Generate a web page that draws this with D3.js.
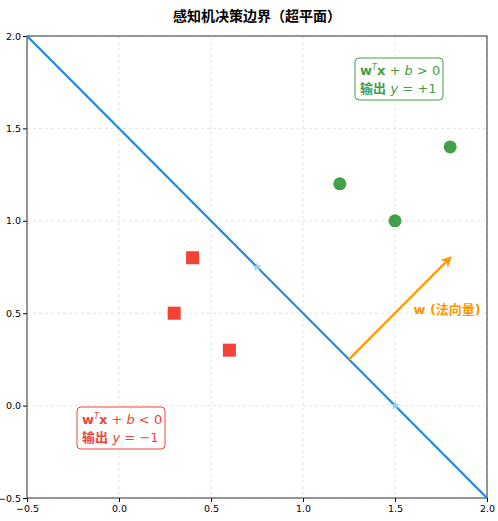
<!DOCTYPE html><html><head><meta charset="utf-8"><script src="https://cdn.jsdelivr.net/npm/d3@7"></script>
<style>body{margin:0;background:#fff}text{font-family:"DejaVu Sans","Noto Sans CJK SC",sans-serif}</style></head><body>
<svg id="c" width="498" height="521"></svg>
<script>
const ticks=[-0.5,0.0,0.5,1.0,1.5,2.0];
const negX=[0.4,0.3,0.6], negY=[0.8,0.5,0.3];
const posX=[1.2,1.5,1.8], posY=[1.2,1.0,1.4];
const lineX=[-0.5,2.0], lineY=[2.0,-0.5];
const starX=[0.75,1.5], starY=[0.75,0.0];
const arrowX=[1.25,1.8], arrowY=[0.25,0.8];
const svg=d3.select("#c");
const m={l:27,r:487,t:36,b:498};
const x=d3.scaleLinear().domain([-0.5,2]).range([m.l,m.r]);
const y=d3.scaleLinear().domain([-0.5,2]).range([m.b,m.t]);
svg.append("text").attr("x",(m.l+m.r)/2).attr("y",21).attr("text-anchor","middle").attr("font-size",14).attr("font-weight","bold").text("感知机决策边界（超平面）");
const g=svg.append("g");
ticks.forEach(t=>{
 g.append("line").attr("x1",x(t)).attr("x2",x(t)).attr("y1",m.t).attr("y2",m.b).attr("stroke","#ddd").attr("stroke-dasharray","3,3").attr("stroke-width",0.8);
 g.append("line").attr("y1",y(t)).attr("y2",y(t)).attr("x1",m.l).attr("x2",m.r).attr("stroke","#ddd").attr("stroke-dasharray","3,3").attr("stroke-width",0.8);
});
svg.append("g").attr("transform",`translate(0,${m.b})`).call(d3.axisBottom(x).tickValues(ticks).tickFormat(d3.format(".1f")).tickSizeOuter(0).tickSize(4).tickPadding(3)).call(a=>{a.selectAll("text").attr("font-size",9.5).attr("fill","#000");a.select(".domain").remove();});
svg.append("g").attr("transform",`translate(${m.l},0)`).call(d3.axisLeft(y).tickValues(ticks).tickFormat(d3.format(".1f")).tickSizeOuter(0).tickSize(4).tickPadding(2)).call(a=>{a.selectAll("text").attr("font-size",9.5).attr("fill","#000");a.select(".domain").remove();});
svg.append("rect").attr("x",m.l).attr("y",m.t).attr("width",m.r-m.l).attr("height",m.b-m.t).attr("fill","none").attr("stroke","#333").attr("stroke-width",1);
svg.append("line").attr("x1",x(lineX[0])).attr("y1",y(lineY[0])).attr("x2",x(lineX[1])).attr("y2",y(lineY[1])).attr("stroke","#1e88e5").attr("stroke-width",2.2);
starX.forEach((v,i)=>svg.append("path").attr("d",d3.symbol(d3.symbolStar,26)()).attr("transform",`translate(${x(v)},${y(starY[i])})`).attr("fill","#90caf9"));
negX.forEach((v,i)=>svg.append("rect").attr("x",x(v)-6.5).attr("y",y(negY[i])-6.5).attr("width",13).attr("height",13).attr("fill","#f44336"));
posX.forEach((v,i)=>svg.append("circle").attr("cx",x(v)).attr("cy",y(posY[i])).attr("r",6.5).attr("fill","#43a047"));
svg.append("defs").append("marker").attr("id","ah").attr("viewBox","0 0 10 10").attr("refX",8).attr("refY",5).attr("markerWidth",5).attr("markerHeight",5).attr("orient","auto").append("path").attr("d","M0,0 L10,5 L0,10 L3,5z").attr("fill","#ff9800");
svg.append("line").attr("x1",x(arrowX[0])).attr("y1",y(arrowY[0])).attr("x2",x(arrowX[1])).attr("y2",y(arrowY[1])).attr("stroke","#ff9800").attr("stroke-width",2.2).attr("marker-end","url(#ah)");
svg.append("text").attr("x",x(1.6)).attr("y",y(0.52)+4).attr("font-size",13).attr("font-weight","bold").attr("fill","#ff9800").text("w (法向量)");
function box(cx,cy,col,sign,out){
 const gg=svg.append("g");
 gg.append("rect").attr("x",cx).attr("y",cy).attr("width",88).attr("height",42).attr("rx",4).attr("fill","#fff").attr("stroke",col).attr("stroke-width",1);
 const t1=gg.append("text").attr("x",cx+5).attr("y",cy+17).attr("font-size",13).attr("fill",col);
 t1.append("tspan").attr("font-weight","bold").text("w");
 t1.append("tspan").attr("font-size",8).attr("font-style","italic").attr("dy",-5).text("T");
 t1.append("tspan").attr("font-weight","bold").attr("dy",5).text("x");
 t1.append("tspan").text(" + ");
 t1.append("tspan").attr("font-style","italic").text("b");
 t1.append("tspan").text(" "+sign+" 0");
 const t2=gg.append("text").attr("x",cx+5).attr("y",cy+35).attr("font-size",13).attr("fill",col);
 t2.append("tspan").attr("font-weight","bold").text("输出 ");
 t2.append("tspan").attr("font-style","italic").text("y");
 t2.append("tspan").text(" = "+out);
}
box(355,58,"#43a047",">","+1");
box(77,407,"#f44336","<","−1");
</script></body></html>
